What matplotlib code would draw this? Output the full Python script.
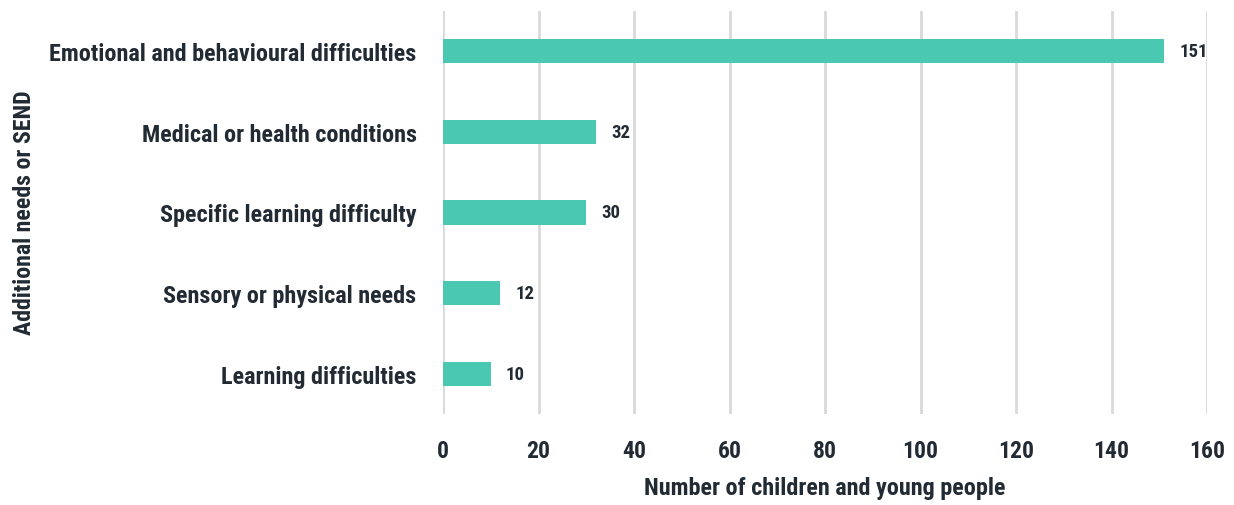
import matplotlib
matplotlib.use("Agg")
import matplotlib.pyplot as plt
from matplotlib import font_manager

categories = ["Emotional and behavioural difficulties", "Medical or health conditions",
              "Specific learning difficulty", "Sensory or physical needs", "Learning difficulties"]
values = [151, 32, 30, 12, 10]
xticks = [0, 20, 40, 60, 80, 100, 120, 140, 160]

names = {f.name for f in font_manager.fontManager.ttflist}
fam = [n for n in ["Roboto Condensed", "Roboto", "DejaVu Sans"] if n in names]
plt.rcParams['font.family'] = fam

text_c = "#222a33"
bar_c = "#4bc8b1"

fig = plt.figure(figsize=(12.34, 5.06), dpi=100)
ax = fig.add_axes([443/1234, 1-415/506, (1207-443)/1234, (415-12)/506])

ypos = list(range(len(categories)))
ax.barh(ypos, values, height=0.3, color=bar_c, zorder=3)
ax.set_ylim(len(categories)-0.5, -0.5)
ax.set_xlim(0, 160)
ax.set_xticks(xticks)
ax.set_yticks(ypos)
ax.set_yticklabels(categories)
ax.grid(axis='x', color="#d9d9d9", linewidth=2, zorder=0)
for s in ax.spines.values():
    s.set_visible(False)
ax.tick_params(axis='both', length=0, colors=text_c, labelsize=17)
ax.tick_params(axis='y', labelsize=17.4)
ax.tick_params(axis='x', pad=18)
ax.tick_params(axis='y', pad=19)
for lbl in ax.get_xticklabels() + ax.get_yticklabels():
    lbl.set_fontweight('bold')

for y, v in zip(ypos, values):
    ax.annotate(str(v), (v, y), xytext=(11, 0), textcoords='offset points',
                va='center', ha='left', fontsize=13.5, fontweight='bold', color=text_c)

ax.set_xlabel("Number of children and young people", fontsize=17.4, fontweight='bold',
              color=text_c, labelpad=10)
fig.text(25/1234, 1-213/506, "Additional needs or SEND", rotation=90, fontsize=17.2,
         fontweight='bold', color=text_c, ha='center', va='center')

fig.savefig("out.png", dpi=100)
